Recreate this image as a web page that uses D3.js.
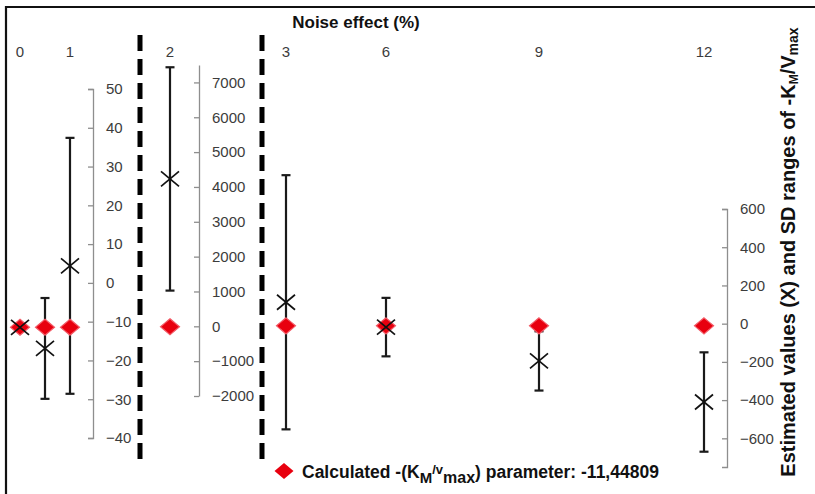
<!DOCTYPE html>
<html>
<head>
<meta charset="utf-8">
<title>Noise effect on estimated -KM/vmax</title>
<style>
  body { margin: 0; background: #fff; }
  text { font-family: "Liberation Sans", Arial, sans-serif; }
  .axis .tick text { fill: #3c3c3c; font-size: 15px; }
  .axis path, .axis line { stroke: #8e8e8e; stroke-width: 1.3; }
</style>
<script src="https://cdn.jsdelivr.net/npm/d3@7"></script>
</head>
<body>
<script>
  // noise levels (%) and what is printed above each column
  const noise = [0, 0.5, 1, 2, 3, 6, 9, 12];
  const noiseLabels = ["0", "", "1", "2", "3", "6", "9", "12"];
  // which y axis each column is read against
  const panel = ["a", "a", "a", "b", "c", "c", "c", "c"];
  // estimated values (X) and SD half-ranges
  const estimated = [-11.45, -16.9, 4.4, 4230, 112, -18, -195, -410];
  const sdRange = [0, 13, 33, 3205, 665, 153, 155, 260];
  const calculated = -11.44809;

  const ticksA = [-40, -30, -20, -10, 0, 10, 20, 30, 40, 50];
  const ticksB = [-2000, -1000, 0, 1000, 2000, 3000, 4000, 5000, 6000, 7000];
  const ticksC = [-600, -400, -200, 0, 200, 400, 600];

  const width = 815, height = 494;

  const svg = d3.select("body").append("svg")
      .attr("width", width)
      .attr("height", height);

  // x positions of the columns (uneven spacing as in the figure)
  const x = d3.scaleLinear()
      .domain([0, 1, 2, 3, 6, 9, 12])
      .range([20, 70, 170, 286, 386, 539, 704]);

  const yScales = {
    a: d3.scaleLinear().domain([-40, 50]).range([438, 89]),
    b: d3.scaleLinear().domain([-2000, 7500]).range([396, 65]),
    c: d3.scaleLinear().domain([-750, 600]).range([467, 209])
  };

  // frame (top and left edges only)
  svg.append("line").attr("x1", 5).attr("x2", width).attr("y1", 7).attr("y2", 7)
      .attr("stroke", "#111").attr("stroke-width", 2.2);
  svg.append("line").attr("x1", 6).attr("x2", 6).attr("y1", 6).attr("y2", height)
      .attr("stroke", "#111").attr("stroke-width", 2.2);

  // axes: ticks on the left of the line, labels on the right
  function drawAxis(scale, ticks, xPos, outer) {
    svg.append("g")
        .attr("class", "axis")
        .attr("transform", "translate(" + xPos + ",0)")
        .call(d3.axisRight(scale)
          .tickValues(ticks)
          .tickSizeInner(-5)
          .tickSizeOuter(outer)
          .tickPadding(13)
          .tickFormat(d3.format("d")))
        .call(g => g.select(".domain").attr("fill", "none"));
  }
  drawAxis(yScales.a, ticksA, 93, -5);
  drawAxis(yScales.b, ticksB, 199, 0);
  drawAxis(yScales.c, ticksC, 727, -5);
  svg.selectAll(".axis .tick text").attr("font-family", "Liberation Sans, Arial, sans-serif");

  // dashed separators between panels
  [140, 262].forEach(function(xp) {
    svg.append("line")
        .attr("x1", xp).attr("x2", xp)
        .attr("y1", 35).attr("y2", 462)
        .attr("stroke", "#000")
        .attr("stroke-width", 5)
        .attr("stroke-dasharray", "16,8");
  });

  // column labels on top
  svg.append("g").selectAll("text")
      .data(noise)
      .enter().append("text")
        .attr("x", d => x(d))
        .attr("y", 57)
        .attr("text-anchor", "middle")
        .style("font-size", "15px")
        .attr("fill", "#3c3c3c")
        .text((d, i) => noiseLabels[i]);

  // title
  svg.append("text")
      .attr("x", 356)
      .attr("y", 28)
      .attr("text-anchor", "middle")
      .style("font-size", "17px")
      .style("font-weight", "bold")
      .attr("fill", "#111")
      .text("Noise effect (%)");

  const rows = noise.map((n, i) => ({
    n: n, y: yScales[panel[i]], est: estimated[i], sd: sdRange[i]
  }));

  // error bars
  const err = svg.append("g").attr("id", "errorbars")
      .attr("stroke", "#1a1a1a").attr("stroke-width", 2.2);
  rows.filter(d => d.sd > 0).forEach(function(d) {
    const cx = x(d.n);
    const top = d.y(d.est + d.sd), bot = d.y(d.est - d.sd);
    err.append("line").attr("x1", cx).attr("x2", cx).attr("y1", top).attr("y2", bot);
    err.append("line").attr("x1", cx - 4.5).attr("x2", cx + 4.5).attr("y1", top).attr("y2", top);
    err.append("line").attr("x1", cx - 4.5).attr("x2", cx + 4.5).attr("y1", bot).attr("y2", bot);
  });

  // red diamonds: calculated parameter
  const diamond = "M0,-8L9.5,0L0,8L-9.5,0Z";
  svg.append("g").attr("id", "calculated").selectAll("path")
      .data(rows)
      .enter().append("path")
        .attr("d", diamond)
        .attr("transform", d => "translate(" + x(d.n) + "," + d.y(calculated) + ")")
        .attr("fill", "#e8000f")
        .attr("stroke", "#f25a66")
        .attr("stroke-width", 1.2);

  // X markers: estimated values
  const marks = svg.append("g").attr("id", "estimated")
      .attr("stroke", "#111").attr("stroke-width", 1.7);
  rows.forEach(function(d) {
    const cx = x(d.n), cy = d.y(d.est);
    marks.append("line").attr("x1", cx - 9).attr("x2", cx + 9).attr("y1", cy - 7.5).attr("y2", cy + 7.5);
    marks.append("line").attr("x1", cx - 9).attr("x2", cx + 9).attr("y1", cy + 7.5).attr("y2", cy - 7.5);
  });

  // legend
  svg.append("path")
      .attr("d", diamond)
      .attr("transform", "translate(284,471)")
      .attr("fill", "#e8000f");
  const leg = svg.append("text")
      .attr("x", 302)
      .attr("y", 478)
      .style("font-size", "17.5px")
      .style("font-weight", "bold")
      .attr("fill", "#111");
  leg.append("tspan").text("Calculated -(K");
  leg.append("tspan").attr("dy", 5).style("font-size", "15px").text("M");
  leg.append("tspan").attr("dy", -9).style("font-size", "13px").text("/v");
  leg.append("tspan").attr("dy", 9).style("font-size", "16px").text("max");
  leg.append("tspan").attr("dy", -5).text(") parameter: -11,44809");

  // right-hand axis title
  const yt = svg.append("text")
      .attr("transform", "translate(795,252) rotate(-90)")
      .attr("text-anchor", "middle")
      .style("font-size", "20px")
      .style("font-weight", "bold")
      .attr("fill", "#111");
  yt.append("tspan").text("Estimated values (X) and SD ranges of -K");
  yt.append("tspan").attr("dy", 3).style("font-size", "12px").text("M");
  yt.append("tspan").attr("dy", -3).text("/V");
  yt.append("tspan").attr("dy", 3).style("font-size", "14px").text("max");
</script>
</body>
</html>
